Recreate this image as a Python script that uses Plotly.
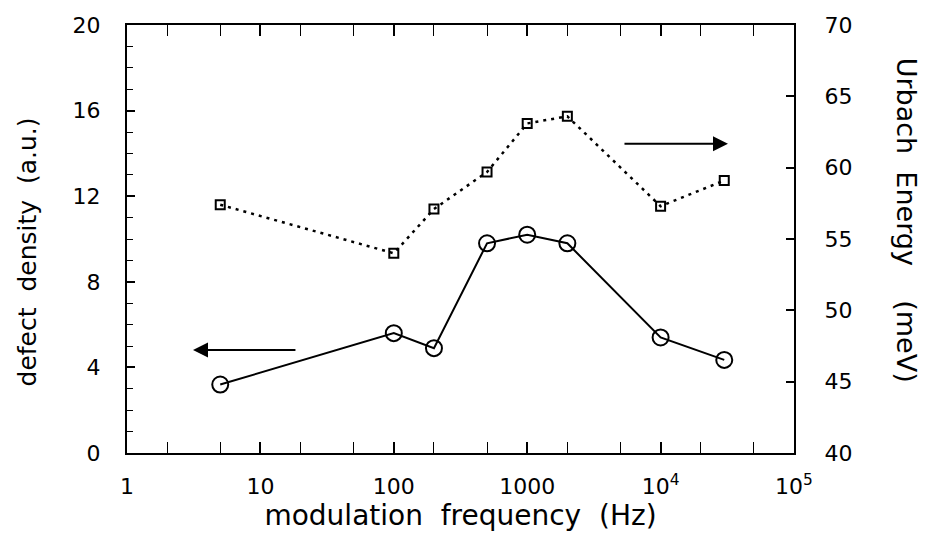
import plotly.graph_objects as go

freq = [5, 100, 200, 500, 1000, 2000, 10000, 30000]
defect_density = [3.2, 5.6, 4.9, 9.8, 10.2, 9.8, 5.4, 4.35]
urbach_energy = [57.4, 54.0, 57.1, 59.7, 63.1, 63.6, 57.3, 59.1]

x_tickvals = [1, 10, 100, 1000, 10000, 100000]
x_ticktext = ["1", "10", "100", "1000", "10<sup>4</sup>", "10<sup>5</sup>"]
y1_ticks = [0, 4, 8, 12, 16, 20]
y2_ticks = [40, 45, 50, 55, 60, 65, 70]

FONT = "DejaVu Sans, Liberation Sans, sans-serif"
TICKFONT = dict(size=22, family=FONT, color="black")

fig = go.Figure()
fig.add_trace(go.Scatter(
    x=freq, y=defect_density, mode="lines+markers",
    line=dict(color="black", width=2),
    marker=dict(symbol="circle-open", size=16, color="black", line=dict(width=2)),
    yaxis="y", showlegend=False))
fig.add_trace(go.Scatter(
    x=freq, y=urbach_energy, mode="lines+markers",
    line=dict(color="black", width=2.5, dash="3px,5px"),
    marker=dict(symbol="square-open", size=9, color="black", line=dict(width=2)),
    yaxis="y2", showlegend=False))

fig.update_layout(
    width=925, height=537,
    margin=dict(l=127, r=131, t=25, b=84),
    paper_bgcolor="white", plot_bgcolor="white",
    font=dict(family=FONT, size=20, color="black"),
    xaxis=dict(
        type="log", range=[0, 5],
        tickvals=x_tickvals, ticktext=x_ticktext,
        ticks="inside", ticklen=11, tickwidth=1.5, tickcolor="black",
        minor=dict(ticks="inside", ticklen=6, tickwidth=1.2, tickcolor="black", showgrid=False),
        showline=True, linewidth=2, linecolor="black", mirror="allticks",
        showgrid=False, zeroline=False,
        tickfont=TICKFONT, ticklabelstandoff=13,
        title=dict(text="modulation  frequency  (Hz)", font=dict(size=28, family=FONT), standoff=0),
    ),
    yaxis=dict(
        range=[0, 20], tickvals=y1_ticks,
        ticks="inside", ticklen=8, tickwidth=1.5, tickcolor="black",
        minor=dict(dtick=1, ticks="inside", ticklen=6, tickwidth=1.2, tickcolor="black", showgrid=False),
        showline=True, linewidth=2, linecolor="black",
        showgrid=False, zeroline=False,
        tickfont=TICKFONT, ticklabelstandoff=20,
    ),
    yaxis2=dict(
        overlaying="y", side="right", range=[40, 70], tickvals=y2_ticks,
        ticks="inside", ticklen=8, tickwidth=1.5, tickcolor="black",
        showline=True, linewidth=2, linecolor="black",
        showgrid=False, zeroline=False,
        tickfont=TICKFONT, ticklabelstandoff=24,
    ),
    annotations=[
        dict(text="defect  density  (a.u.)", textangle=-90, xref="paper", yref="paper",
             x=-0.149, y=0.47, showarrow=False, font=dict(size=25, family=FONT),
             xanchor="center", yanchor="middle"),
        dict(text="Urbach  Energy    (meV)", textangle=90, xref="paper", yref="paper",
             x=1.168, y=0.545, showarrow=False, font=dict(size=27, family=FONT),
             xanchor="center", yanchor="middle"),
        dict(x=0.495, y=4.81, ax=1.274, ay=4.81, xref="x", yref="y", axref="x", ayref="y",
             showarrow=True, arrowhead=2, arrowsize=1.5, arrowwidth=2, arrowcolor="black", text=""),
        dict(x=4.505, y=14.45, ax=3.718, ay=14.45, xref="x", yref="y", axref="x", ayref="y",
             showarrow=True, arrowhead=2, arrowsize=1.5, arrowwidth=2, arrowcolor="black", text=""),
    ],
)

fig.write_html("out.html")
